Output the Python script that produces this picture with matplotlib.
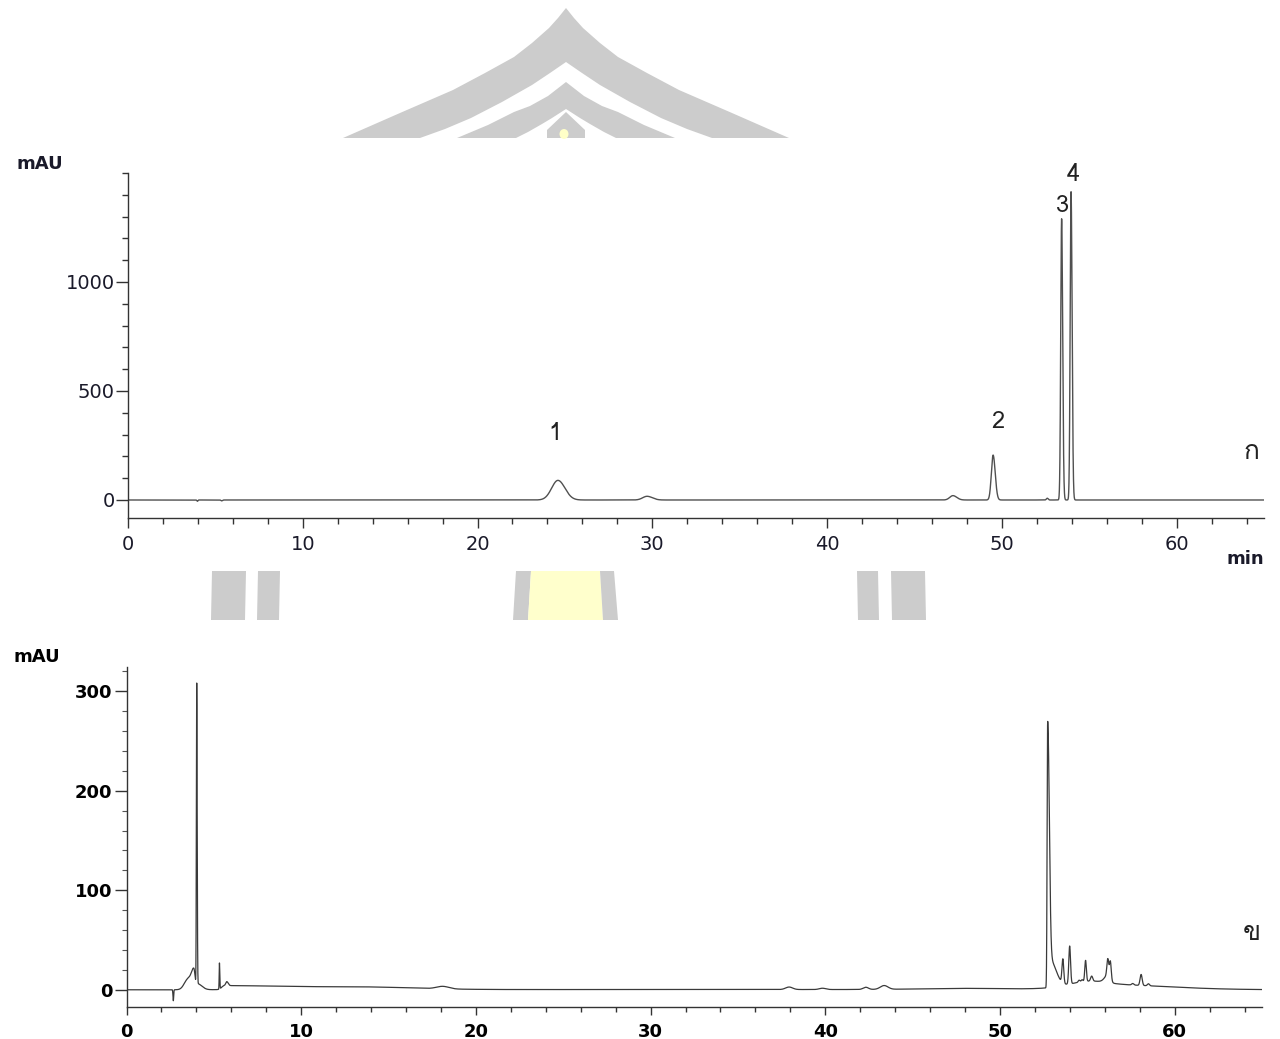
import numpy as np
import matplotlib
matplotlib.use("Agg")
import matplotlib.pyplot as plt
from matplotlib import font_manager
from matplotlib.ft2font import FT2Font
from matplotlib.patches import Polygon, Ellipse
from matplotlib.ticker import MultipleLocator, FixedLocator

# ---------------------------------------------------------------------------
# Chromatogram ก (standard mixture): peak retention time (min), height (mAU),
# leading and trailing peak widths (min)
std_rt     = [3.97, 5.36, 24.6, 29.7, 47.2, 49.5, 52.6, 53.42, 53.96]
std_height = [-6.0, -4.0, 90.0, 17.0, 20.0, 206.0, 8.0, 1290.0, 1414.0]
std_front  = [0.03, 0.04, 0.36, 0.25, 0.18, 0.10, 0.05, 0.05, 0.05]
std_back   = [0.03, 0.04, 0.40, 0.30, 0.22, 0.12, 0.05, 0.06, 0.06]

# numbered peaks of the standard and where their numbers sit (min, mAU)
std_labels   = ["1", "2", "3", "4"]
std_label_rt = [24.45, 49.75, 53.5, 54.1]
std_label_y  = [307, 358, 1353, 1491]

# Chromatogram ข (sample extract)
smp_rt     = [2.68, 3.5, 3.85, 4.02, 4.06, 5.32, 5.6, 5.74, 13.5, 18.1, 35.0,
              37.93, 39.84, 42.32, 43.37, 48.0,
              52.73, 52.85, 53.6, 53.99, 54.53, 54.7, 54.9, 55.0, 55.25,
              56.0, 56.2, 56.17, 56.32, 57.6, 58.08, 58.5]
smp_height = [-11.0, 10.0, 21.0, 304.0, 6.0, 26.0, 4.0, 4.0, 2.5, 2.5, 0.8,
              2.5, 1.3, 2.2, 3.8, 1.2,
              265.0, 28.0, 24.0, 38.0, 2.0, 2.0, 21.0, 4.0, 5.0,
              5.0, 8.0, 16.0, 17.0, 1.5, 11.0, 2.0]
smp_front  = [0.02, 0.20, 0.15, 0.02, 0.02, 0.015, 0.15, 0.06, 3.0, 0.35, 40.0,
              0.20, 0.18, 0.15, 0.22, 2.5,
              0.03, 0.05, 0.05, 0.05, 0.05, 0.05, 0.045, 1.0, 0.06,
              2.0, 0.20, 0.05, 0.05, 0.06, 0.06, 0.06]
smp_back   = [0.02, 0.15, 0.08, 0.025, 0.25, 0.02, 3.5, 0.08, 3.0, 0.35, 40.0,
              0.20, 0.18, 0.15, 0.22, 2.5,
              0.09, 0.35, 0.05, 0.05, 0.05, 0.05, 0.045, 1.0, 0.06,
              3.5, 0.12, 0.05, 0.05, 0.06, 0.06, 0.06]

panel_names = ["ก", "ข"]

std_yticks = [0, 500, 1000]
smp_yticks = [0, 100, 200, 300]
x_ticks_major = 10
x_ticks_minor = 2


def signal(t, rt, height, front, back):
    """Sum of split-Gaussian peaks evaluated on the time grid t."""
    y = np.zeros_like(t)
    for r, a, sf, sb in zip(rt, height, front, back):
        s = np.where(t < r, sf, sb)
        y += a * np.exp(-0.5 * ((t - r) / s) ** 2)
    return y


def family_for(ch, fallback="DejaVu Sans"):
    """First installed font family that has a glyph for ch."""
    for f in font_manager.fontManager.ttflist:
        try:
            if FT2Font(f.fname).get_char_index(ord(ch)):
                return f.name
        except Exception:
            continue
    return fallback


thai_family = family_for("ก")

t = np.linspace(0, 65, 26001)
y_std = signal(t, std_rt, std_height, std_front, std_back)
y_smp = signal(t, smp_rt, smp_height, smp_front, smp_back)

W, H = 1280, 1039
fig = plt.figure(figsize=(W / 100, H / 100), dpi=100)
fig.patch.set_facecolor("white")


def fx(px):
    return px / W


def fy(py):
    return 1 - py / H


# --- faint emblem behind the figure -------------------------------------------
grey = "#cccccc"
cx = 566


def mirror(pts):
    return [(2 * cx - x, y) for x, y in pts]


def band(outer_left, inner_left):
    pts = outer_left[::-1] + mirror(outer_left)[1:] + mirror(inner_left)[::-1] + inner_left[1:]
    return [(fx(x), fy(y)) for x, y in pts]


outer_a = [(566, 8), (558, 18), (549, 28), (532, 43), (514, 57), (485, 73),
           (453, 90), (400, 113), (343, 138)]
inner_a = [(566, 62), (550, 73), (532, 85), (502, 102), (471, 118), (445, 129), (420, 138)]
outer_b = [(566, 82), (548, 96), (530, 106), (514, 112), (488, 125), (457, 138)]
inner_b = [(566, 109), (552, 118), (542, 124), (528, 132), (516, 138)]
for o, i in ((outer_a, inner_a), (outer_b, inner_b)):
    fig.add_artist(Polygon(band(o, i), closed=True, facecolor=grey, edgecolor="none",
                           transform=fig.transFigure, zorder=0))
core = [(566, 112), (547, 130), (547, 138), (585, 138), (585, 130)]
fig.add_artist(Polygon([(fx(x), fy(y)) for x, y in core], closed=True, facecolor=grey,
                       edgecolor="none", transform=fig.transFigure, zorder=0))
fig.add_artist(Ellipse((fx(564), fy(134)), 9 / W, 10 / H, facecolor="#ffffc8",
                       edgecolor="none", transform=fig.transFigure, zorder=0))

pillars = [
    ([(212, 571), (246, 571), (245, 620), (211, 620)], grey),
    ([(258, 571), (280, 571), (279, 620), (257, 620)], grey),
    ([(516, 571), (531, 571), (528, 620), (513, 620)], grey),
    ([(531, 571), (600, 571), (603, 620), (528, 620)], "#ffffcc"),
    ([(600, 571), (614, 571), (618, 620), (603, 620)], grey),
    ([(857, 571), (878, 571), (879, 620), (858, 620)], grey),
    ([(891, 571), (925, 571), (926, 620), (892, 620)], grey),
]
for pts, col in pillars:
    fig.add_artist(Polygon([(fx(x), fy(y)) for x, y in pts], closed=True, facecolor=col,
                           edgecolor="none", transform=fig.transFigure, zorder=0))

# --- axes ---------------------------------------------------------------------
ax1 = fig.add_axes([fx(128), fy(518.3), fx(1264 - 128), (518.3 - 173) / H])
ax2 = fig.add_axes([fx(126.5), fy(1007.3), fx(1262 - 126.5), (1007.3 - 666.7) / H])

for ax in (ax1, ax2):
    ax.set_facecolor("none")
    ax.spines[["top", "right"]].set_visible(False)
    for side in ("left", "bottom"):
        ax.spines[side].set_color("#333333")
        ax.spines[side].set_linewidth(1.0)
    ax.set_xlim(0, 65)
    ax.xaxis.set_major_locator(MultipleLocator(x_ticks_major))
    ax.xaxis.set_minor_locator(MultipleLocator(x_ticks_minor))

ax1.plot(t, y_std, color="#505050", lw=1.0)
ax1.set_ylim(-84, 1500)
ax1.yaxis.set_major_locator(FixedLocator(std_yticks))
ax1.yaxis.set_minor_locator(MultipleLocator(100))
ax1.tick_params(axis="x", which="major", length=7, width=1, pad=5, labelsize=14,
                colors="#333333", labelcolor="#1a1a2a")
ax1.tick_params(axis="x", which="minor", length=4.5, width=1, colors="#333333")
ax1.tick_params(axis="y", which="major", length=9, width=1, pad=0.5, labelsize=14,
                colors="#333333", labelcolor="#1a1a2a")
ax1.tick_params(axis="y", which="minor", length=4.5, width=1, colors="#333333")

ax2.plot(t, y_smp, color="#3a3a3a", lw=0.9)
ax2.set_ylim(-17, 324)
ax2.yaxis.set_major_locator(FixedLocator(smp_yticks))
ax2.yaxis.set_minor_locator(MultipleLocator(20))
ax2.tick_params(axis="x", which="major", length=6, width=1, pad=5, labelsize=13,
                colors="#333333", labelcolor="black")
ax2.tick_params(axis="x", which="minor", length=3.5, width=1, colors="#333333")
ax2.tick_params(axis="y", which="major", length=9, width=1, pad=1, labelsize=13,
                colors="#333333", labelcolor="black")
ax2.tick_params(axis="y", which="minor", length=3.5, width=0.8, colors="#555555")
for lab in ax2.get_xticklabels() + ax2.get_yticklabels():
    lab.set_fontweight("bold")

# unit labels
fig.text(fx(39.5), fy(164), "mAU", ha="center", va="center", fontsize=13,
         fontweight="bold", color="#1a1a2a")
fig.text(fx(37), fy(656.5), "mAU", ha="center", va="center", fontsize=13,
         fontweight="bold", color="black")
fig.text(fx(1245), fy(559.5), "min", ha="center", va="center", fontsize=13,
         fontweight="bold", color="#1a1a2a")

# peak numbers
for lab, lx, ly in zip(std_labels, std_label_rt, std_label_y):
    ax1.text(lx, ly, lab, ha="center", va="center", fontsize=17,
             family=[thai_family, "DejaVu Sans"], color="#222222")

# panel letters
ax1.text(64.3, 220, panel_names[0], ha="center", va="center", fontsize=19,
         family=[thai_family, "DejaVu Sans"], color="#222222")
ax2.text(64.4, 57, panel_names[1], ha="center", va="center", fontsize=19,
         family=[thai_family, "DejaVu Sans"], color="#222222")

fig.savefig("out.png", dpi=100, facecolor="white")
